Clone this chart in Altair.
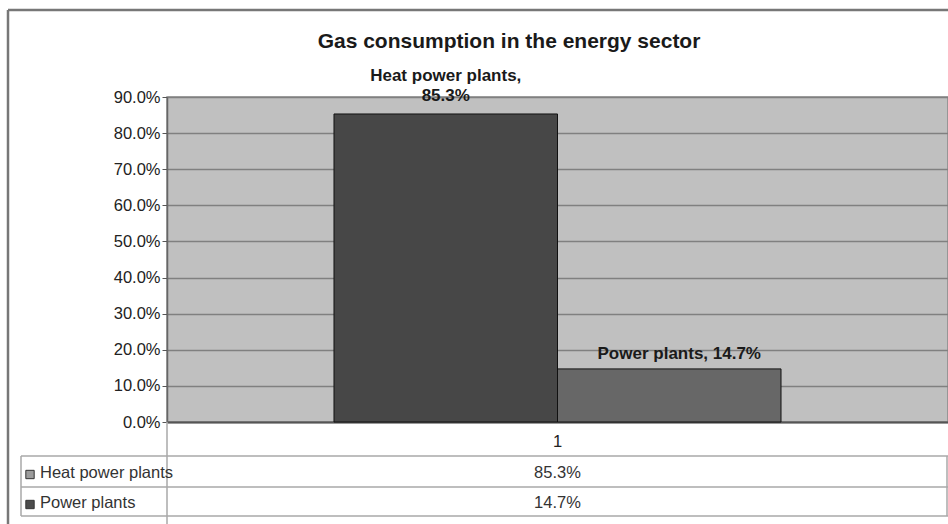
import altair as alt
import pandas as pd

# Gas consumption in the energy sector, split by plant type
category = ["1"]
series = ["Heat power plants", "Power plants"]
share = [0.853, 0.147]

bar_colors = ["#474747", "#676767"]
swatch_colors = ["#9c9c9c", "#4c4c4c"]

FONT = "Liberation Sans"
Y_MAX = 0.9
y_ticks = [i / 10 for i in range(10)]

df = pd.DataFrame({
    "category": category * len(series),
    "series": series,
    "share": share,
})

blank = alt.Data(values=[{}])

x_enc = alt.X("category:N", title=None,
              scale=alt.Scale(paddingOuter=0.3736, paddingInner=0),
              axis=alt.Axis(labelAngle=0, ticks=False, labelPadding=11,
                            labelFontSize=16.5, labelColor="#222",
                            labelFont=FONT, domainColor="#555",
                            domainWidth=2, grid=False))
xoff_enc = alt.XOffset("series:N", scale=alt.Scale(domain=series, paddingInner=0, paddingOuter=0))
y_scale = alt.Scale(domain=[0, Y_MAX], nice=False, zero=True)

bars = alt.Chart(df).mark_bar(stroke="#111", strokeWidth=1).encode(
    x=x_enc,
    xOffset=xoff_enc,
    y=alt.Y("share:Q", title=None, scale=y_scale,
            axis=alt.Axis(values=y_ticks, format=".1%", labelFontSize=16.5,
                          labelFont=FONT, labelColor="#222", labelPadding=2,
                          tickSize=5, tickColor="#555", domainColor="#666",
                          domainWidth=1.5, gridColor="#808080", gridWidth=1.5)),
    color=alt.Color("series:N", scale=alt.Scale(domain=series, range=bar_colors), legend=None),
)

# Data labels above the bars
heat_label = alt.Chart(df).transform_filter(
    alt.datum.series == series[0]
).transform_calculate(
    label="[datum.series + ',', format(datum.share, '.1%')]"
).mark_text(font=FONT, fontSize=17, fontWeight="bold", color="#1a1a1a",
            baseline="bottom", lineHeight=20, dy=-29).encode(
    x=alt.X("category:N"), xOffset=xoff_enc,
    y=alt.Y("share:Q", scale=y_scale, axis=None),
    text="label:N",
)

power_label = alt.Chart(df).transform_filter(
    alt.datum.series == series[1]
).transform_calculate(
    label="datum.series + ', ' + format(datum.share, '.1%')"
).mark_text(font=FONT, fontSize=17, fontWeight="bold", color="#1a1a1a",
            baseline="alphabetic", dx=10, dy=-10).encode(
    x=alt.X("category:N"), xOffset=xoff_enc,
    y=alt.Y("share:Q", scale=y_scale, axis=None),
    text="label:N",
)

# Data table under the axis
row_y = alt.Y("series:N", scale=alt.Scale(domain=series, range=[376, 406], padding=0), axis=None)

table_values = alt.Chart(df).mark_text(font=FONT, fontSize=16.5, color="#333",
                                       baseline="middle").encode(
    x=alt.X("category:N"),
    y=row_y,
    text=alt.Text("share:Q", format=".1%"),
)

row_names = alt.Chart(df).mark_text(font=FONT, fontSize=16.5, color="#333",
                                    align="left", baseline="middle").encode(
    x=alt.value(-127),
    y=row_y,
    text="series:N",
)

swatches = alt.Chart(df).mark_square(size=70, stroke="#333", strokeWidth=1,
                                     opacity=1).encode(
    x=alt.value(-137),
    y=alt.Y("series:N", scale=alt.Scale(domain=series, range=[377.5, 407.5], padding=0), axis=None),
    fill=alt.Fill("series:N", scale=alt.Scale(domain=series, range=swatch_colors), legend=None),
)

def hline(y, x1, x2, color="#a8a8a8", width=1.5):
    return alt.Chart(blank).mark_rule(color=color, strokeWidth=width).encode(
        x=alt.value(x1), x2=alt.value(x2), y=alt.value(y))

def vline(x, y1, y2, color="#a8a8a8", width=1.5):
    return alt.Chart(blank).mark_rule(color=color, strokeWidth=width).encode(
        x=alt.value(x), y=alt.value(y1), y2=alt.value(y2))

table_grid = [
    hline(359, -146, 781), hline(390, -146, 781), hline(419, -146, 781),
    vline(-146, 359, 419), vline(0, 325, 427), vline(780, 359, 419),
]

frame = [
    hline(-87, -159, 781, color="#777", width=2.5),
    vline(-159, -87, 427, color="#777", width=2.5),
]

title = alt.Chart(blank).mark_text(
    text="Gas consumption in the energy sector", font=FONT, fontSize=21,
    fontWeight="bold", color="#1a1a1a", align="center", baseline="alphabetic"
).encode(x=alt.value(342), y=alt.value(-49))

chart = alt.layer(
    *frame, *table_grid, bars, heat_label, power_label,
    table_values, row_names, swatches, title,
).resolve_scale(
    y="independent"
).properties(
    width=781, height=325,
    autosize=alt.AutoSizeParams(type="none"),
    padding={"left": 167, "top": 97, "right": 0, "bottom": 102},
    background="white",
).configure_view(
    fill="#c0c0c0", stroke="#888", strokeWidth=1.5,
)

chart.save("out.html", embed_options={"renderer": "svg", "actions": False})
